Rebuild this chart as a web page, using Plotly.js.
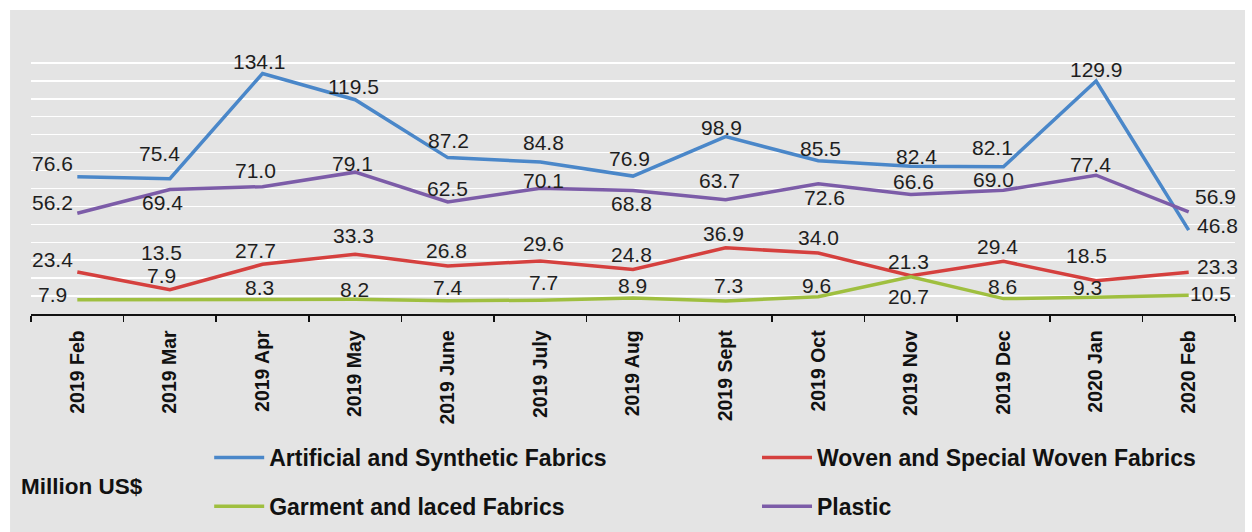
<!DOCTYPE html>
<html>
<head>
<meta charset="utf-8">
<script src="https://cdn.plot.ly/plotly-3.0.1.min.js"></script>
<style>html,body{margin:0;padding:0;background:#fff;}#chart{width:1252px;height:532px;}</style>
</head>
<body>
<div id="chart"></div>
<script>
// ---- data ----
const months = ["2019 Feb","2019 Mar","2019 Apr","2019 May","2019 June","2019 July","2019 Aug","2019 Sept","2019 Oct","2019 Nov","2019 Dec","2020 Jan","2020 Feb"];
const artificialSynthetic = [76.6, 75.4, 134.1, 119.5, 87.2, 84.8, 76.9, 98.9, 85.5, 82.4, 82.1, 129.9, 46.8];
const wovenSpecial = [23.4, 13.5, 27.7, 33.3, 26.8, 29.6, 24.8, 36.9, 34.0, 21.3, 29.4, 18.5, 23.3];
const garmentLaced = [7.9, 7.9, 8.3, 8.2, 7.4, 7.7, 8.9, 7.3, 9.6, 20.7, 8.6, 9.3, 10.5];
const plastic = [56.2, 69.4, 71.0, 79.1, 62.5, 70.1, 68.8, 63.7, 72.6, 66.6, 69.0, 77.4, 56.9];
const seriesNames = ["Artificial and Synthetic Fabrics","Woven and Special Woven Fabrics","Garment and laced Fabrics","Plastic"];
const unitLabel = "Million US$";

// ---- label placement (pixel offsets from each point: [dx, dy], dy down) ----
const offArtificial = [[-25,-13],[-10,-25],[-3,-12],[-2,-13],[1,-17],[3,-19],[-4,-18],[-4,-9],[2,-12],[6,-10],[-11,-19],[0,-12],[29,-5]];
const offWoven = [[-25,-13],[-8,-37],[-7,-14],[-2,-19],[-1,-15],[3,-17],[-2,-15],[-2,-14],[0,-16],[-2,-14],[-6,-15],[-10,-25],[29,-6]];
const offGarment = [[-25,-5],[-8,-24],[-3,-12],[-1,-10],[0,-13],[3,-18],[-1,-13],[3,-15],[-2,-11],[-2,20],[-1,-12],[-9,-10],[22,-2]];
const offPlastic = [[-25,-11],[-7,13],[-7,-16],[-3,-9],[0,-13],[3,-8],[-2,13],[-6,-19],[6,14],[3,-13],[-10,-11],[-6,-11],[27,-15]];

const colors = ["#4a87c9","#d5403e","#9fbf3f","#7c5ca8"];
const allSeries = [artificialSynthetic, wovenSpecial, garmentLaced, plastic];
const allOffsets = [offArtificial, offWoven, offGarment, offPlastic];
const legendIds = ["legend","legend2","legend","legend2"];

const traces = allSeries.map((vals, k) => ({
  type: "scatter", mode: "lines",
  x: months, y: vals, name: seriesNames[k],
  line: {color: colors[k], width: 3.5},
  legend: legendIds[k], legendgroup: "g" + k,
  hoverinfo: "skip"
}));

const annotations = [];
allSeries.forEach((vals, k) => {
  vals.forEach((v, i) => {
    annotations.push({
      x: months[i], y: v, xref: "x", yref: "y",
      text: v.toFixed(1), showarrow: false,
      xanchor: "center", yanchor: "middle",
      xshift: allOffsets[k][i][0], yshift: -allOffsets[k][i][1],
      font: {family: "Liberation Sans, Arial, sans-serif", size: 21, color: "#1e1e1e"}
    });
  });
});
annotations.push({
  xref: "paper", yref: "paper", x: -0.0096, y: -0.64, xanchor: "left", yanchor: "middle",
  text: unitLabel, showarrow: false,
  font: {family: "Liberation Sans, Arial, sans-serif", size: 22.5, color: "#111", weight: "bold"}
});

const legendCommon = {
  orientation: "v", xanchor: "left", yanchor: "top",
  xref: "paper", yref: "container",
  bgcolor: "rgba(0,0,0,0)", borderwidth: 0,
  font: {family: "Liberation Sans, Arial, sans-serif", size: 23, color: "#111", weight: "bold"},
  tracegroupgap: 16, itemwidth: 50, traceorder: "grouped"
};

const layout = {
  width: 1252, height: 532,
  margin: {l: 31, r: 17, t: 45, b: 218, autoexpand: false},
  paper_bgcolor: "#ffffff",
  plot_bgcolor: "rgba(0,0,0,0)",
  font: {family: "Liberation Sans, Arial, sans-serif"},
  shapes: [{
    type: "rect", xref: "paper", yref: "paper", layer: "below",
    x0: -0.0174, x1: 1.0083, y0: -0.818, y1: 1.130,
    fillcolor: "#e4e4e4", line: {width: 0}
  }],
  xaxis: {
    type: "category", range: [-0.5, 12.5], automargin: false,
    showgrid: false, zeroline: false,
    showline: true, linecolor: "#111", linewidth: 1.5,
    ticks: "outside", ticklen: 6, tickcolor: "#111", tickwidth: 1.5,
    tickson: "boundaries", tickangle: -90, ticklabelstandoff: 7,
    tickfont: {family: "Liberation Sans, Arial, sans-serif", size: 19.5, color: "#111", weight: "bold"}
  },
  yaxis: {
    range: [0, 150], dtick: 10, showticklabels: false, ticks: "",
    showgrid: true, gridcolor: "#ffffff", gridwidth: 1.5,
    zeroline: false, showline: false
  },
  showlegend: true,
  legend: Object.assign({}, legendCommon, {x: 0.148, y: 0.1805}),
  legend2: Object.assign({}, legendCommon, {x: 0.603, y: 0.1805}),
  annotations: annotations
};

Plotly.newPlot("chart", traces, layout, {displayModeBar: false, staticPlot: true});
</script>
</body>
</html>
